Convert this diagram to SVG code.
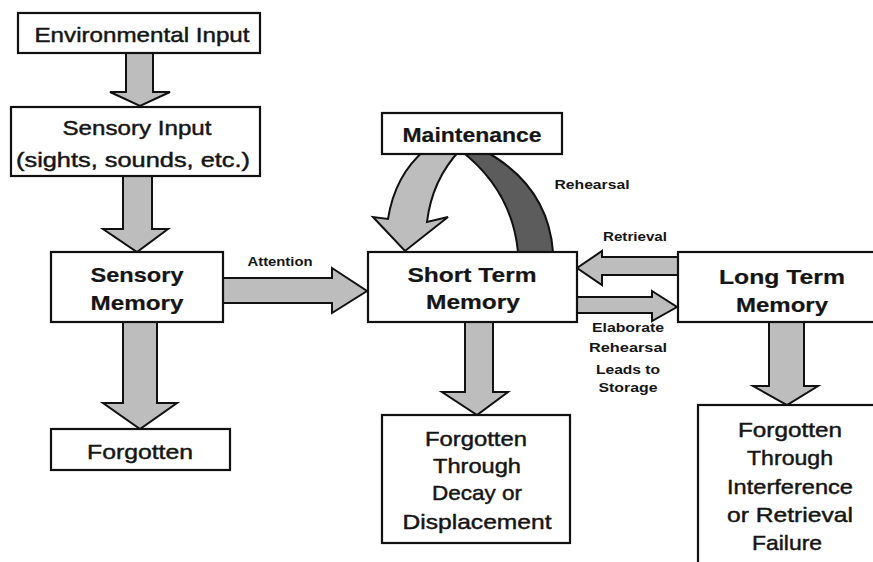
<svg xmlns="http://www.w3.org/2000/svg" width="873" height="562" viewBox="0 0 873 562">
<style>
.box{fill:#fff;stroke:#111;stroke-width:2.2}
.arr{fill:#bdbdbd;stroke:#111;stroke-width:2;stroke-linejoin:miter}
.dark{fill:#5c5c5c;stroke:#111;stroke-width:2}
.t{font-family:"Liberation Sans",Arial,sans-serif;font-size:21px;fill:#151515;stroke:#151515;stroke-width:0.45;text-anchor:middle}
.b{font-weight:bold;stroke-width:0.2}
.s{font-family:"Liberation Sans",Arial,sans-serif;font-size:13px;fill:#151515;text-anchor:middle;font-weight:bold}
</style>
<rect width="873" height="562" fill="#fff"/>
<g id="connectors">
<polygon class="arr" points="126,53 126,92 110,92 140,106 170,92 153,92 153,53"/>
<polygon class="arr" points="123,176 123,229 103,229 137,252 168,229 152,229 152,176"/>
<polygon class="arr" points="123,322 123,403 103,403 140,429 177,403 157,403 157,322"/>
<polygon class="arr" points="223,278 332,278 332,268 367,291 332,313 332,303 223,303"/>
<polygon class="arr" points="678,257 602,257 602,251 577,268 602,285 602,275 678,275"/>
<polygon class="arr" points="577,297 652,297 652,291 677,307 652,321 652,313 577,313"/>
<polygon class="arr" points="465,322 465,392 442,392 477,415 508,392 493,392 493,322"/>
<polygon class="arr" points="769,322 769,386 753,386 787,405 818,386 804,386 804,322"/>
<path class="arr" d="M425,150 Q395,175 388,219 L373,217 L405,251 L448,217 L427,222 Q432,180 460,150 Z"/>
<path class="dark" d="M460,150 Q512,190 518,252 L553,252 Q548,185 483,150 Z"/>
<text class="s" x="280" y="266" textLength="65" lengthAdjust="spacingAndGlyphs">Attention</text>
<text class="s" x="592" y="189" textLength="75" lengthAdjust="spacingAndGlyphs">Rehearsal</text>
<text class="s" x="635" y="241" textLength="64" lengthAdjust="spacingAndGlyphs">Retrieval</text>
<text class="s" x="628" y="332" textLength="72" lengthAdjust="spacingAndGlyphs">Elaborate</text>
<text class="s" x="628" y="352" textLength="78" lengthAdjust="spacingAndGlyphs">Rehearsal</text>
<text class="s" x="628" y="374" textLength="64" lengthAdjust="spacingAndGlyphs">Leads to</text>
<text class="s" x="628" y="392" textLength="59" lengthAdjust="spacingAndGlyphs">Storage</text>
</g>
<g id="env-input">
<rect class="box" x="18" y="13" width="242" height="40"/>
<text class="t" x="142" y="42" textLength="215" lengthAdjust="spacingAndGlyphs">Environmental Input</text>
</g>
<g id="sensory-input">
<rect class="box" x="11" y="107" width="249" height="69"/>
<text class="t" x="137" y="135" textLength="149" lengthAdjust="spacingAndGlyphs">Sensory Input</text>
<text class="t" x="133" y="167" textLength="234" lengthAdjust="spacingAndGlyphs">(sights, sounds, etc.)</text>
</g>
<g id="sensory-memory">
<rect class="box" x="51" y="252" width="172" height="70"/>
<text class="t b" x="137" y="282" textLength="93" lengthAdjust="spacingAndGlyphs">Sensory</text>
<text class="t b" x="137" y="310" textLength="93" lengthAdjust="spacingAndGlyphs">Memory</text>
</g>
<g id="forgotten">
<rect class="box" x="51" y="429" width="179" height="41"/>
<text class="t" x="140" y="459" textLength="106" lengthAdjust="spacingAndGlyphs">Forgotten</text>
</g>
<g id="maintenance">
<rect class="box" x="382" y="113" width="180" height="41"/>
<text class="t b" x="472" y="142" textLength="139" lengthAdjust="spacingAndGlyphs">Maintenance</text>
</g>
<g id="short-term-memory">
<rect class="box" x="368" y="252" width="209" height="70"/>
<text class="t b" x="472" y="282" textLength="129" lengthAdjust="spacingAndGlyphs">Short Term</text>
<text class="t b" x="473" y="309" textLength="94" lengthAdjust="spacingAndGlyphs">Memory</text>
</g>
<g id="long-term-memory">
<rect class="box" x="678" y="252" width="210" height="70"/>
<text class="t b" x="782" y="284" textLength="126" lengthAdjust="spacingAndGlyphs">Long Term</text>
<text class="t b" x="782" y="312" textLength="92" lengthAdjust="spacingAndGlyphs">Memory</text>
</g>
<g id="forgotten-decay">
<rect class="box" x="382" y="415" width="188" height="128"/>
<text class="t" x="476" y="446" textLength="102" lengthAdjust="spacingAndGlyphs">Forgotten</text>
<text class="t" x="477" y="473" textLength="88" lengthAdjust="spacingAndGlyphs">Through</text>
<text class="t" x="477" y="500" textLength="90" lengthAdjust="spacingAndGlyphs">Decay or</text>
<text class="t" x="477" y="529" textLength="149" lengthAdjust="spacingAndGlyphs">Displacement</text>
</g>
<g id="forgotten-interference">
<rect class="box" x="698" y="405" width="190" height="170"/>
<text class="t" x="790" y="437" textLength="104" lengthAdjust="spacingAndGlyphs">Forgotten</text>
<text class="t" x="790" y="465" textLength="86" lengthAdjust="spacingAndGlyphs">Through</text>
<text class="t" x="790" y="494" textLength="126" lengthAdjust="spacingAndGlyphs">Interference</text>
<text class="t" x="790" y="522" textLength="126" lengthAdjust="spacingAndGlyphs">or Retrieval</text>
<text class="t" x="787" y="550" textLength="70" lengthAdjust="spacingAndGlyphs">Failure</text>
</g>
</svg>
